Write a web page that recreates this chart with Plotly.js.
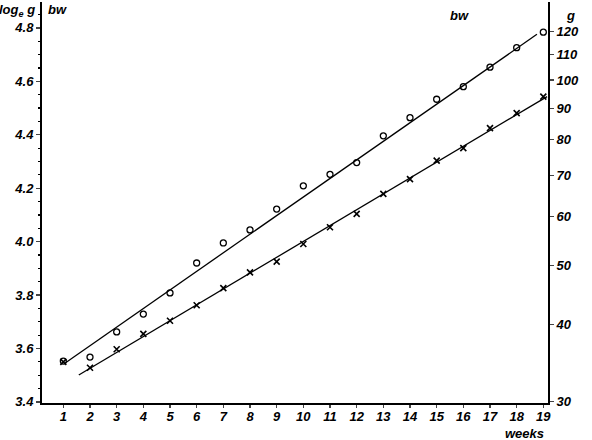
<!DOCTYPE html>
<html><head><meta charset="utf-8">
<script src="https://cdn.plot.ly/plotly-3.0.1.min.js"></script>
<style>html,body{margin:0;padding:0;background:#fff}#chart{width:592px;height:440px}</style>
</head><body><div id="chart"></div>
<script>
const weeks = [1,2,3,4,5,6,7,8,9,10,11,12,13,14,15,16,17,18,19];
const circleLogBw = [3.553,3.568,3.662,3.729,3.808,3.920,3.995,4.044,4.122,4.209,4.252,4.296,4.396,4.464,4.533,4.580,4.653,4.726,4.784];
const crossLogBw  = [3.550,3.528,3.597,3.655,3.704,3.762,3.826,3.885,3.925,3.991,4.054,4.104,4.179,4.234,4.303,4.350,4.425,4.481,4.543];
const circleFitWeeks = [1.07, 18.76];
const circleFitLogBw = [3.546, 4.776];
const crossFitWeeks = [1.58, 19.14];
const crossFitLogBw = [3.501, 4.543];
const leftTicks = [3.4,3.6,3.8,4.0,4.2,4.4,4.6,4.8];
const leftTickText = ['3.4','3.6','3.8','4.0','4.2','4.4','4.6','4.8'];
const rightTicks = [30,40,50,60,70,80,90,100,110,120];
const rightTickText = ['30','40','50','60','70','80','90','100','110','120'];

const yLo = 3.396, yHi = 4.897;
const fnt = {family:'Liberation Sans Narrow, Liberation Sans, sans-serif', size:13, color:'#000', style:'italic', weight:'bold'};

const traces = [
  {x: circleFitWeeks, y: circleFitLogBw, mode:'lines', line:{color:'#000', width:1.3}, hoverinfo:'skip', showlegend:false},
  {x: crossFitWeeks, y: crossFitLogBw, mode:'lines', line:{color:'#000', width:1.3}, hoverinfo:'skip', showlegend:false},
  {x: weeks, y: circleLogBw, mode:'markers', marker:{symbol:'circle-open', size:6, color:'#000', line:{width:1.3, color:'#000'}}, showlegend:false},
  {x: weeks, y: crossLogBw, mode:'markers', marker:{symbol:'x-thin-open', size:6, color:'#000', line:{width:1.6, color:'#000'}}, showlegend:false},
  {x: [1], y: [35], yaxis:'y2', mode:'markers', marker:{opacity:0}, showlegend:false, hoverinfo:'skip'}
];

const layout = {
  width:592, height:440,
  margin:{l:42, r:44, t:2, b:37},
  paper_bgcolor:'#fff', plot_bgcolor:'#fff',
  font: fnt,
  showlegend:false,
  xaxis:{range:[0.2, 19.175], tickvals:weeks, ticktext:weeks.map(String), ticks:'outside', ticklen:3, tickwidth:1.2,
         ticklabelstandoff:-3,
         showline:true, linewidth:2, linecolor:'#000', showgrid:false, zeroline:false, tickfont:fnt},
  yaxis:{range:[yLo, yHi], tickvals:leftTicks, ticktext:leftTickText, ticks:'outside', ticklen:4, tickwidth:1.2,
         showline:true, linewidth:2, linecolor:'#000', showgrid:false, zeroline:false, tickfont:fnt,
         minor:{dtick:0.05, ticks:'outside', ticklen:2, tickcolor:'#000'}},
  yaxis2:{type:'log', overlaying:'y', side:'right', range:[yLo/Math.LN10, yHi/Math.LN10], tickvals:rightTicks, ticktext:rightTickText,
          ticks:'outside', ticklen:4, tickwidth:1.2, showline:true, linewidth:2, linecolor:'#000', showgrid:false, zeroline:false, tickfont:fnt},
  annotations:[
    {xref:'paper', yref:'paper', x:-0.005, y:1.0, xanchor:'right', yanchor:'top', text:'log<sub>e</sub> g', showarrow:false, font:fnt, xshift:-2, yshift:2},
    {xref:'paper', yref:'paper', x:0.0, y:1.0, xanchor:'left', yanchor:'top', text:'bw', showarrow:false, font:fnt, xshift:4, yshift:2},
    {xref:'paper', yref:'paper', x:1.0, y:1.0, xanchor:'right', yanchor:'top', text:'bw', showarrow:false, font:fnt, xshift:-77, yshift:-4},
    {xref:'paper', yref:'paper', x:1.0, y:1.0, xanchor:'left', yanchor:'top', text:'g', showarrow:false, font:fnt, xshift:16, yshift:-4},
    {xref:'paper', yref:'paper', x:1.0, y:0, xanchor:'right', yanchor:'top', text:'weeks', showarrow:false, font:fnt, xshift:-2, yshift:-21}
  ]
};

Plotly.newPlot('chart', traces, layout, {displayModeBar:false, staticPlot:true});
</script>
</body></html>
